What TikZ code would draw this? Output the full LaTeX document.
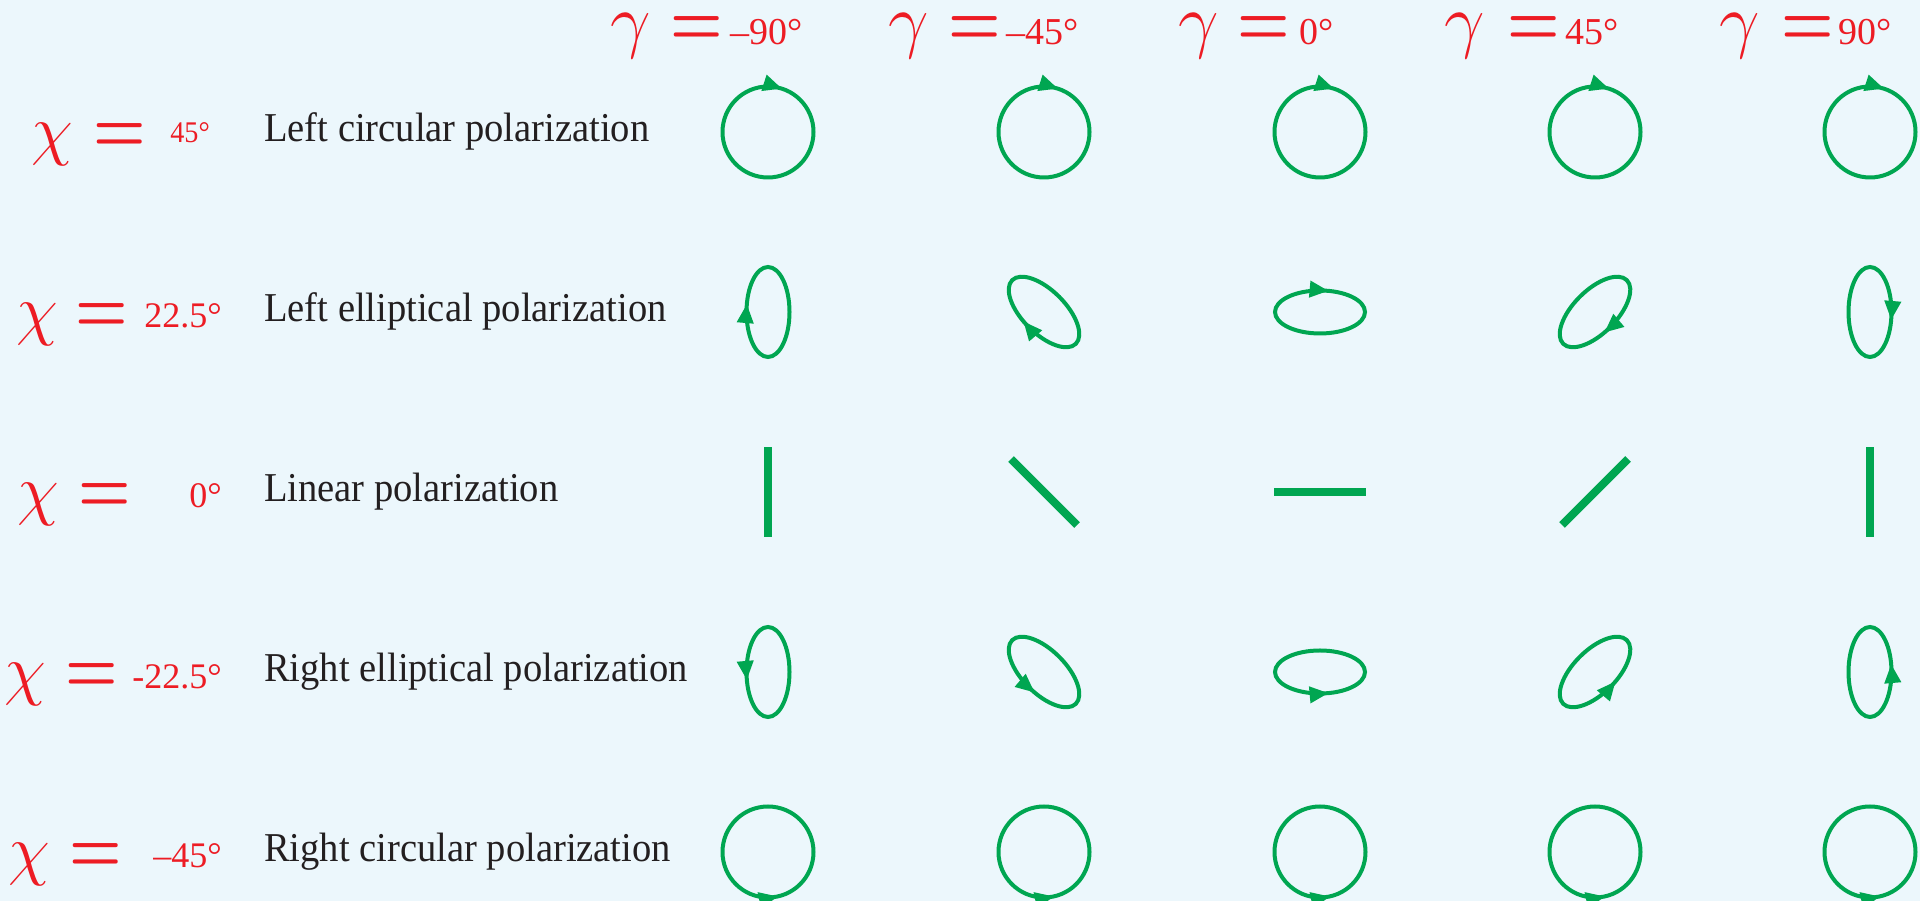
\RequirePackage{fix-cm}
\documentclass[tikz,border=0pt]{standalone}
\usepackage{graphicx}
\usepackage[no-math]{fontspec}
\setmainfont{Liberation Serif}
\newfontfamily\lblfont[FakeStretch=0.94]{Liberation Serif}
\newfontfamily\numfont{Liberation Serif}
\usetikzlibrary{arrows.meta,decorations.markings}
\definecolor{bgc}{RGB}{236,247,252}
\definecolor{pgreen}{RGB}{0,166,81}
\definecolor{pred}{RGB}{237,28,36}
\definecolor{ptext}{RGB}{35,31,32}
\newcommand{\bigeq}{\scalebox{0.8}[1]{\boldmath$=$}}
\tikzset{
  greek/.style={text=pred, inner sep=0pt, anchor=base west, font=\fontsize{68}{68}\selectfont},
  gammalbl/.style={text=pred, inner sep=0pt, anchor=base west, font=\fontsize{72}{72}\selectfont},
  eqlbl/.style={text=pred, inner sep=0pt, anchor=base west, font=\fontsize{75}{75}\selectfont},
  numlbl/.style={text=pred, inner sep=0pt, font=\numfont\fontsize{36}{36}\selectfont},
  gnum/.style={text=pred, inner sep=0pt, anchor=base east, font=\numfont\fontsize{38}{38}\selectfont},
  smallnum/.style={text=pred, inner sep=0pt, font=\lblfont\fontsize{30}{30}\selectfont},
  desc/.style={text=ptext, inner sep=0pt, anchor=base west, font=\lblfont\fontsize{41}{41}\selectfont},
  pol/.style={draw=pgreen, color=pgreen, line width=4pt},
  lin/.style={draw=pgreen, line width=8pt},
  cw/.style={postaction={decorate,decoration={markings,mark=at position #1 with {\arrowreversed{Triangle[length=19pt,width=16pt]}}}}},
  ccw/.style={postaction={decorate,decoration={markings,mark=at position #1 with {\arrow{Triangle[length=19pt,width=16pt]}}}}},
}
\begin{document}
\begin{tikzpicture}[x=1pt,y=1pt]
\fill[bgc] (0,0) rectangle (1920,901);
\useasboundingbox (0,0) rectangle (1920,901);

% gamma headers
\node[gammalbl] (g1) at (610,856) {$\gamma$};
\node[eqlbl] (ge1) at (670,855) {\bigeq};
\node[gnum] (gn1) at (803,856) {–90°};
\node[gammalbl] (g2) at (888,856) {$\gamma$};
\node[eqlbl] (ge2) at (948,855) {\bigeq};
\node[gnum] (gn2) at (1079,856) {–45°};
\node[gammalbl] (g3) at (1178,856) {$\gamma$};
\node[eqlbl] (ge3) at (1237,855) {\bigeq};
\node[gnum] (gn3) at (1334,856) {0°};
\node[gammalbl] (g4) at (1444,856) {$\gamma$};
\node[eqlbl] (ge4) at (1507,855) {\bigeq};
\node[gnum] (gn4) at (1619,856) {45°};
\node[gammalbl] (g5) at (1719,856) {$\gamma$};
\node[eqlbl] (ge5) at (1781,855) {\bigeq};
\node[gnum] (gn5) at (1892,856) {90°};

% chi labels
\node[greek] (c1) at (31.5,748.5) {$\chi$};
\node[eqlbl] (ce1) at (93.7,748.5) {\bigeq};
\node[smallnum, anchor=base east] (cn1) at (210,758) {45°};
\node[greek] (c2) at (16,568.5) {$\chi$};
\node[eqlbl] (ce2) at (75.7,568.5) {\bigeq};
\node[numlbl, anchor=base east] (cn2) at (222,573) {22.5°};
\node[greek] (c3) at (17.4,388.5) {$\chi$};
\node[eqlbl] (ce3) at (78.3,388.5) {\bigeq};
\node[numlbl, anchor=base east] (cn3) at (222,393) {0°};
\node[greek] (c4) at (4,208.5) {$\chi$};
\node[eqlbl] (ce4) at (65.7,208.5) {\bigeq};
\node[numlbl, anchor=base east] (cn4) at (222,212) {-22.5°};
\node[greek] (c5) at (8,28.5) {$\chi$};
\node[eqlbl] (ce5) at (69.7,28.5) {\bigeq};
\node[numlbl, anchor=base east] (cn5) at (222,33) {–45°};

% descriptions
\node[desc] (d1) at (264,759) {Left circular polarization};
\node[desc] (d2) at (264,579) {Left elliptical polarization};
\node[desc] (d3) at (264,399) {Linear polarization};
\node[desc] (d4) at (264,219) {Right elliptical polarization};
\node[desc] (d5) at (264,39) {Right circular polarization};

% row 1: left circular
\foreach \cx in {768,1044,1320,1595,1870}
  \draw[pol, cw=0.2] (\cx,769) circle [radius=45.5];

% row 2: left elliptical
\draw[pol, cw=0.713, rotate around={-90:(768,589)}] (768,589) ellipse [x radius=45, y radius=21.5];
\draw[pol, cw=0.713, rotate around={-45:(1044,589)}] (1044,589) ellipse [x radius=45, y radius=21.5];
\draw[pol, cw=0.21] (1320,589) ellipse [x radius=45, y radius=21.5];
\draw[pol, cw=0.713, rotate around={45:(1595,589)}] (1595,589) ellipse [x radius=45, y radius=21.5];
\draw[pol, cw=0.713, rotate around={90:(1870,589)}] (1870,589) ellipse [x radius=45, y radius=21.5];

% row 3: linear
\draw[lin] (768,364) -- (768,454);
\draw[lin] (1011,442) -- (1077,376);
\draw[lin] (1274,409) -- (1366,409);
\draw[lin] (1562,376) -- (1628,442);
\draw[lin] (1870,364) -- (1870,454);

% row 4: right elliptical
\draw[pol, ccw=0.787, rotate around={-90:(768,229)}] (768,229) ellipse [x radius=45, y radius=21.5];
\draw[pol, ccw=0.787, rotate around={-45:(1044,229)}] (1044,229) ellipse [x radius=45, y radius=21.5];
\draw[pol, ccw=0.79] (1320,229) ellipse [x radius=45, y radius=21.5];
\draw[pol, ccw=0.787, rotate around={45:(1595,229)}] (1595,229) ellipse [x radius=45, y radius=21.5];
\draw[pol, ccw=0.787, rotate around={90:(1870,229)}] (1870,229) ellipse [x radius=45, y radius=21.5];

% row 5: right circular
\foreach \cx in {768,1044,1320,1595,1870}
  \draw[pol, ccw=0.785] (\cx,49) circle [radius=45.5];
\end{tikzpicture}
\end{document}
